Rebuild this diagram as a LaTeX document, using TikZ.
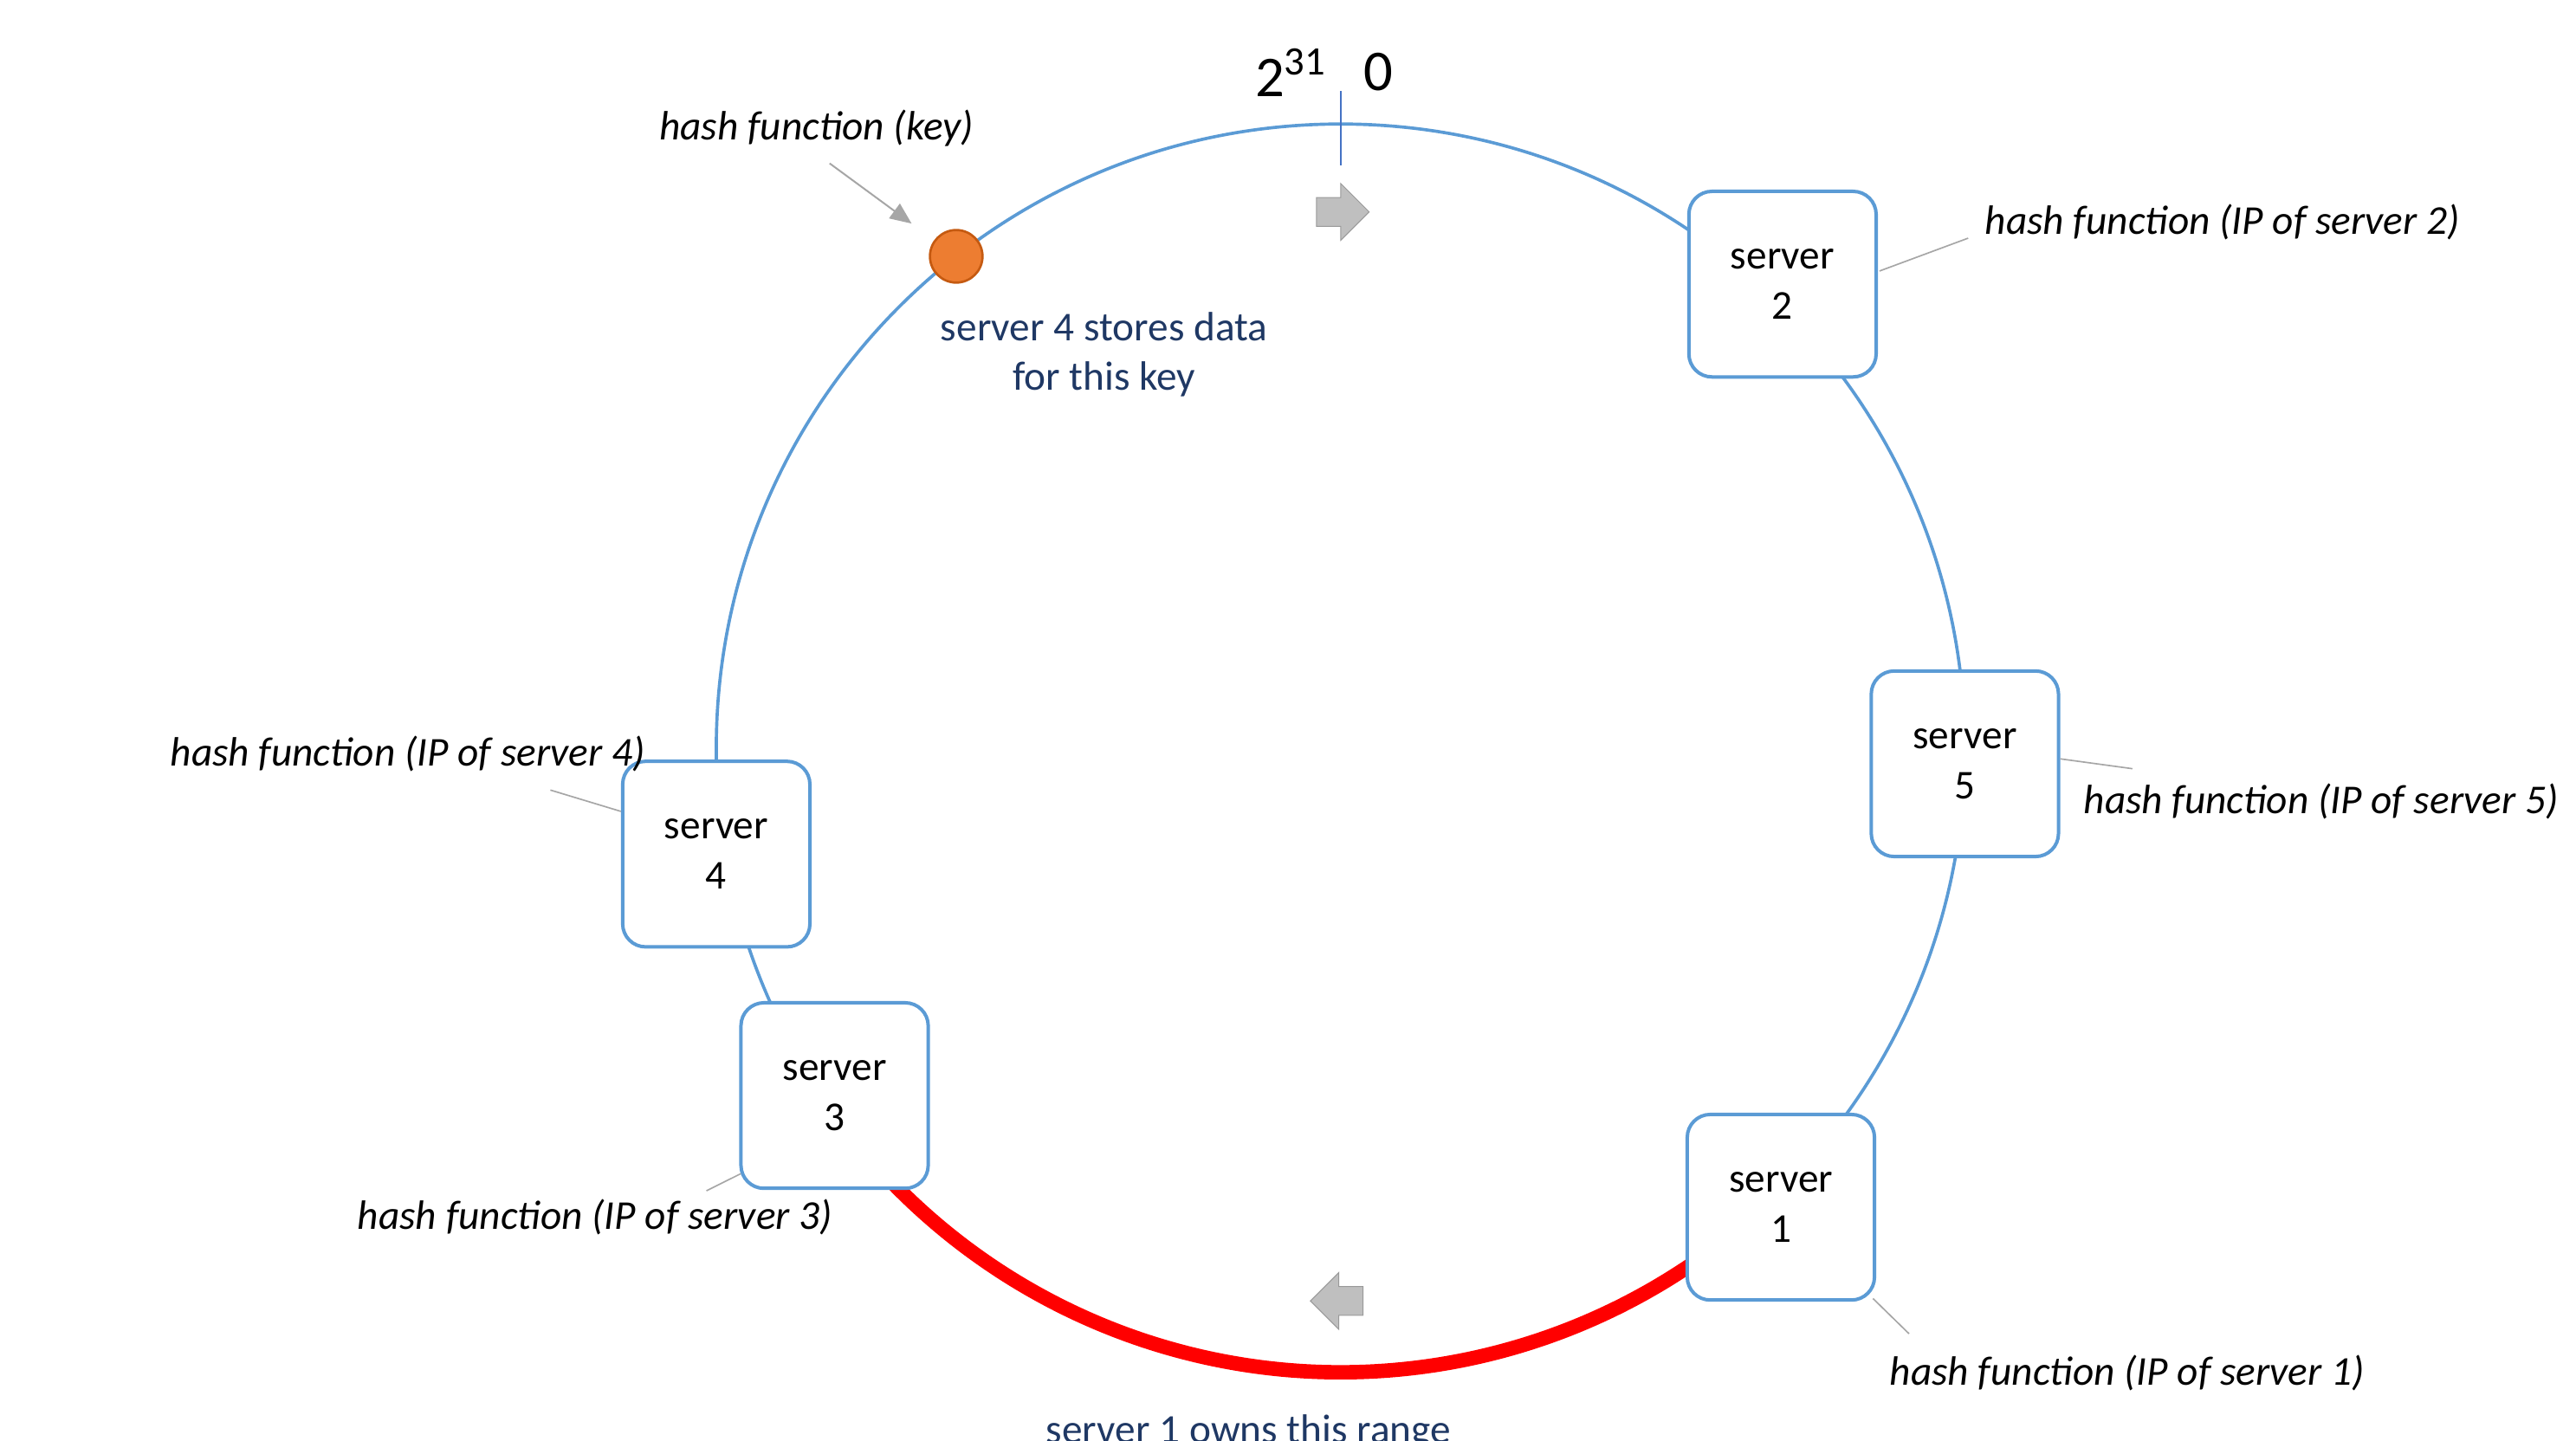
\documentclass[tikz,border=0pt]{standalone}
\usepackage{fontspec}
\setmainfont{Carlito}
\usepackage{xcolor}
\definecolor{ringBlue}{HTML}{5B9BD5}
\definecolor{tickBlue}{HTML}{4472C4}
\definecolor{keyOrange}{HTML}{ED7D31}
\definecolor{keyEdge}{HTML}{C55A11}
\definecolor{noteNavy}{HTML}{1F3864}
\definecolor{arrowGray}{HTML}{BFBFBF}
\definecolor{leaderGray}{HTML}{A6A6A6}
\usepackage{tikz}
\usetikzlibrary{shapes,arrows,positioning,calc,arrows.meta,shapes.arrows}
\tikzset{%
  serverBox/.style={%
    rectangle,
    rounded corners=0.28cm,
    draw=ringBlue,
    line width=1.2pt,
    fill=white,
    minimum width=2.28cm,
    minimum height=2.26cm,
    align=center,
    font=\fontsize{14.2}{17.5}\selectfont
  },
  ringLine/.style={%
    draw=ringBlue,
    line width=1.1pt
  },
  rangeLine/.style={%
    draw=red,
    line width=5pt
  },
  hashLabel/.style={%
    font=\fontsize{14.2}{17}\selectfont\itshape,
    inner sep=0pt
  },
  noteText/.style={%
    font=\fontsize{14.2}{17}\selectfont,
    text=noteNavy,
    align=center,
    inner sep=0pt
  },
  leaderLine/.style={%
    draw=leaderGray,
    line width=0.5pt
  },
  keyArrow/.style={%
    -{Triangle[length=2.6mm,width=2.2mm]},
    draw=leaderGray,
    fill=leaderGray,
    line width=0.6pt
  },
  keyDot/.style={%
    circle,
    fill=keyOrange,
    draw=keyEdge,
    line width=0.8pt,
    minimum size=0.64cm,
    inner sep=0pt
  },
  blockArrow/.style={%
    single arrow,
    fill=arrowGray,
    draw=gray!80,
    line width=0.3pt,
    inner sep=0.17cm,
    single arrow head extend=0.17cm,
    minimum height=0.64cm
  },
  topLabel/.style={%
    font=\fontsize{20}{24}\selectfont,
    inner sep=0pt
  }
}

\begin{document}
\begin{tikzpicture}[x=0.02cm,y=0.02cm]
  \useasboundingbox (0,0) rectangle (1568,877);
  \clip (0,0) rectangle (1568,877);

  % the ring
  \coordinate (c) at (816,421.5);
  \draw[ringLine] (c) circle (380);
  \draw[rangeLine] ($(c)+(-145.5:380)$) arc[start angle=-145.5, end angle=-46.2, radius=380];
  \draw[draw=tickBlue, line width=0.5pt] ($(c)+(0,400)$) -- ($(c)+(0,355)$);
  \node[topLabel, anchor=east] (max) at (808,833) {2\textsuperscript{31}};
  \node[topLabel, anchor=west] (zero) at (830,833) {0};

  % servers
  \node[serverBox] (s2) at (1085,704) {server\\2};
  \node[serverBox] (s5) at (1196,412) {server\\5};
  \node[serverBox] (s1) at (1084,142) {server\\1};
  \node[serverBox] (s3) at (508,210) {server\\3};
  \node[serverBox] (s4) at (436,357) {server\\4};

  \node[hashLabel, anchor=west] (hs2) at (1208,742) {hash function (IP of server 2)};
  \node[hashLabel, anchor=west] (hs5) at (1268,389) {hash function (IP of server 5)};
  \node[hashLabel, anchor=west] (hs1) at (1150,41) {hash function (IP of server 1)};
  \node[hashLabel, anchor=east] (hs3) at (507,136) {hash function (IP of server 3)};
  \node[hashLabel, anchor=east] (hs4) at (393,418) {hash function (IP of server 4)};

  \draw[leaderLine] ($(s2.east)+(1,8)$) -- ($(hs2.west)+(-10,-10)$);
  \draw[leaderLine] ($(s5.east)+(0,3)$) -- ($(hs5.west)+(30,20)$);
  \draw[leaderLine] ($(s1.south east)+(-2,2)$) -- ($(hs1.west)+(12,24)$);
  \draw[leaderLine] ($(s3.south west)+(1,10)$) -- ($(hs3.east)+(-77,16)$);
  \draw[leaderLine] ($(s4.west)+(0,26)$) -- ($(hs4.east)+(-58,-22)$);

  % key
  \node[keyDot] (dot) at ($(c)+(128:380)$) {};
  \node[hashLabel] (hk) at (497,799) {hash function (key)};
  \draw[keyArrow, shorten >=0.34cm] ($(hk.south)+(8,-10)$) -- (dot);
  \node[noteText] (note4) at (672,661) {server 4 stores data\\for this key};
  \node[noteText, anchor=north] (note1) at (760,16) {server 1 owns this range};

  \node[blockArrow] (dirTop) at (813,748) {};
  \node[blockArrow, shape border rotate=180] (dirBottom) at (818,85) {};
\end{tikzpicture}
\end{document}
